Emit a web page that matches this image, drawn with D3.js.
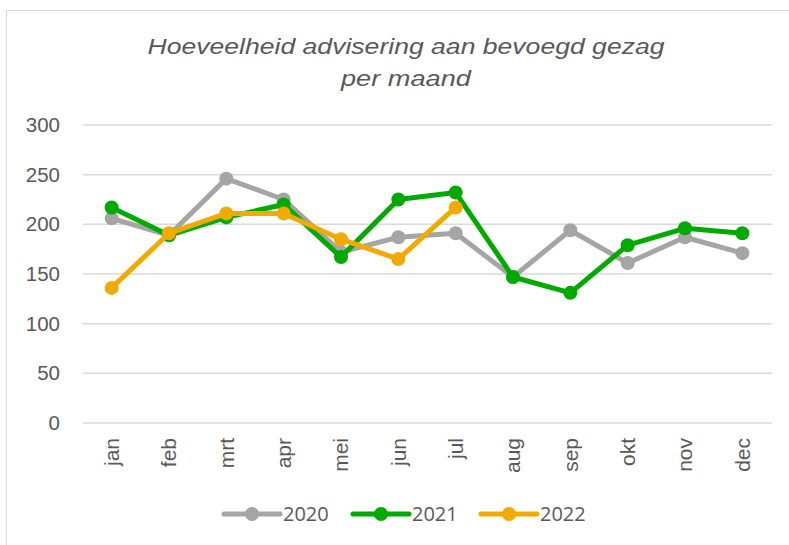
<!DOCTYPE html>
<html>
<head>
<meta charset="utf-8">
<script src="https://cdn.jsdelivr.net/npm/d3@7"></script>
<style>
  body { margin: 0; background: #fff; }
  svg { font-family: "Open Sans", "Noto Sans", sans-serif; }
</style>
</head>
<body>
<script>
const months = ['jan', 'feb', 'mrt', 'apr', 'mei', 'jun', 'jul', 'aug', 'sep', 'okt', 'nov', 'dec']
const yTicks = [0, 50, 100, 150, 200, 250, 300]

const values2020 = [206, 189, 246, 225, 172, 187, 191, 147, 194, 161, 187, 171]
const values2021 = [217, 189, 207, 220, 167, 225, 232, 147, 131, 179, 196, 191]
const values2022 = [136, 191, 211, 211, 185, 165, 217]

const series = [
  { name: '2020', color: '#a5a5a5', values: values2020 },
  { name: '2021', color: '#00aa00', values: values2021 },
  { name: '2022', color: '#f2a900', values: values2022 }
]

const width = 789
const height = 545

const svg = d3.select('body')
  .append('svg')
  .attr('width', width)
  .attr('height', height)

// chart frame, runs off the right and bottom
svg.append('rect')
  .attr('x', 6.5)
  .attr('y', 10.5)
  .attr('width', 800)
  .attr('height', 560)
  .attr('fill', 'none')
  .attr('stroke', '#d9d9d9')

const title = svg.append('text')
  .attr('text-anchor', 'middle')
  .attr('fill', '#595959')
  .attr('font-family', '"Liberation Sans", Arial, sans-serif')
  .attr('font-size', 22.5)
  .attr('font-style', 'italic')
title.append('tspan').attr('x', 406).attr('y', 54)
  .attr('textLength', 517).attr('lengthAdjust', 'spacingAndGlyphs')
  .text('Hoeveelheid advisering aan bevoegd gezag')
title.append('tspan').attr('x', 406).attr('y', 86)
  .attr('textLength', 130).attr('lengthAdjust', 'spacingAndGlyphs')
  .text('per maand')

const x = d3.scaleBand()
  .domain(months)
  .range([83, 771])

const y = d3.scaleLinear()
  .domain([0, 300])
  .range([423, 125])

// gridlines
svg.append('g')
  .selectAll('line')
  .data(yTicks)
  .enter().append('line')
  .attr('x1', 83)
  .attr('x2', 772)
  .attr('y1', d => y(d))
  .attr('y2', d => y(d))
  .attr('stroke', '#d9d9d9')
  .attr('stroke-width', 1.5)

const yAxis = svg.append('g')
  .attr('transform', 'translate(60,0)')
  .call(d3.axisLeft(y).tickValues(yTicks).tickSize(0).tickPadding(0))
yAxis.select('.domain').remove()
yAxis.selectAll('text')
  .attr('fill', '#595959')
  .attr('font-size', 20.5)
  .attr('font-family', 'inherit')

const xAxis = svg.append('g')
  .attr('transform', 'translate(0,423)')
  .call(d3.axisBottom(x).tickSize(0))
xAxis.select('.domain').remove()
xAxis.selectAll('text')
  .attr('fill', '#595959')
  .attr('font-size', 21)
  .attr('font-family', 'inherit')
  .attr('transform', 'rotate(-90)')
  .attr('text-anchor', 'end')
  .attr('x', -15)
  .attr('y', 0)
  .attr('dy', '0.35em')

const cx = (d, i) => x(months[i]) + x.bandwidth() / 2

const line = d3.line()
  .x(cx)
  .y(d => y(d))

const lines = svg.append('g')
series.forEach(s => {
  const g = lines.append('g')
  g.append('path')
    .datum(s.values)
    .attr('d', line)
    .attr('fill', 'none')
    .attr('stroke', s.color)
    .attr('stroke-width', 5)
    .attr('stroke-linejoin', 'round')
  g.selectAll('circle')
    .data(s.values)
    .enter().append('circle')
    .attr('cx', cx)
    .attr('cy', d => y(d))
    .attr('r', 7)
    .attr('fill', s.color)
})

// legend
const legendX = [224, 353, 481]
const legend = svg.append('g')
series.forEach((s, i) => {
  const g = legend.append('g').attr('transform', `translate(${legendX[i]},514)`)
  g.append('line')
    .attr('x1', 0)
    .attr('x2', 56)
    .attr('stroke', s.color)
    .attr('stroke-width', 5)
    .attr('stroke-linecap', 'round')
  g.append('circle')
    .attr('cx', 28)
    .attr('r', 7)
    .attr('fill', s.color)
  g.append('text')
    .attr('x', 59)
    .attr('dy', '0.35em')
    .attr('fill', '#595959')
    .attr('font-size', 20)
    .text(s.name)
})
</script>
</body>
</html>
